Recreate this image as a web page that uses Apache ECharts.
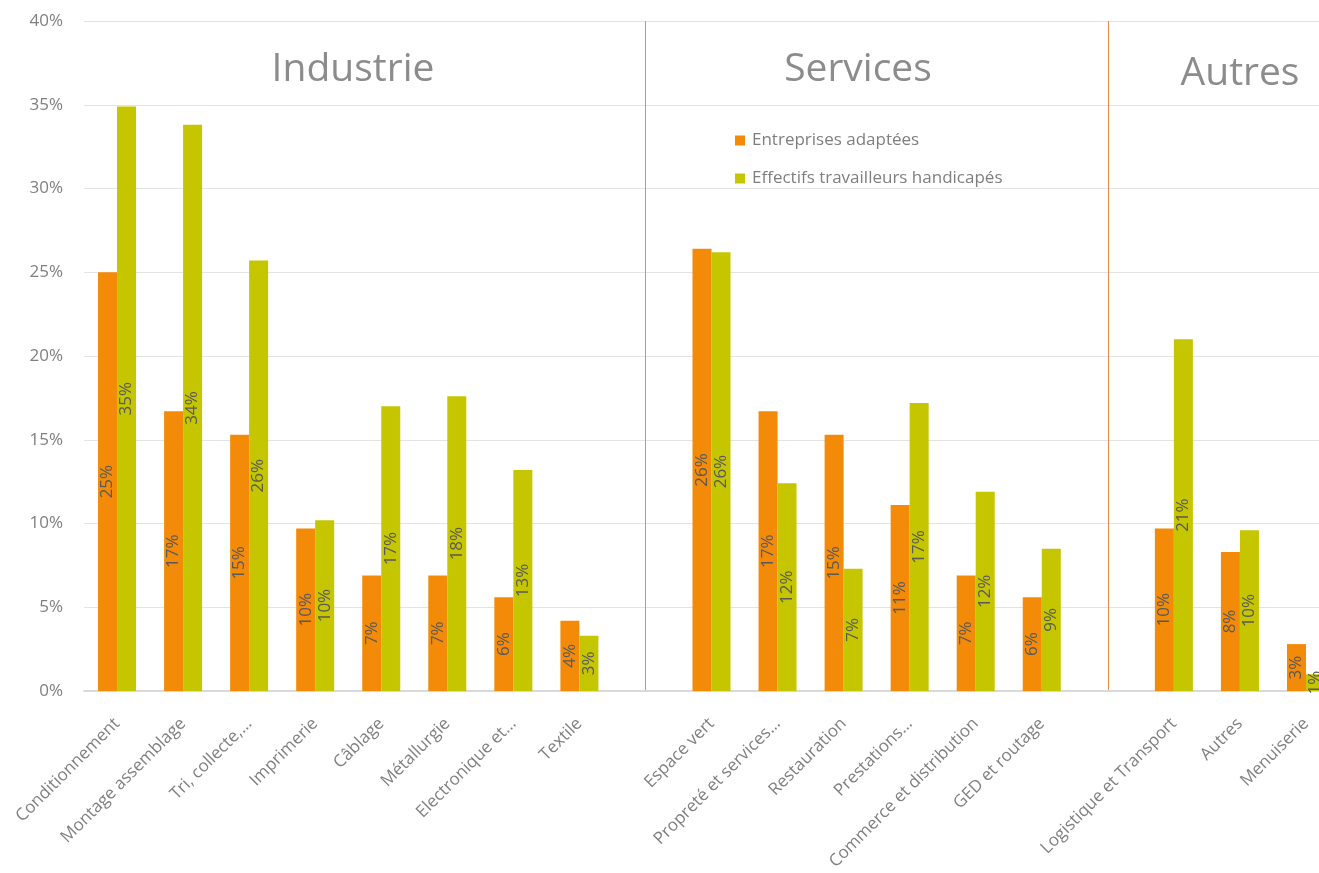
<!DOCTYPE html>
<html>
<head>
<meta charset="utf-8">
<script src="https://cdn.jsdelivr.net/npm/echarts@6/dist/echarts.min.js"></script>
<style>
  html, body { margin: 0; padding: 0; background: #fff; overflow: hidden; }
  #chart { width: 1319px; height: 873px; }
</style>
</head>
<body>
<div id="chart"></div>
<script>
// Activity sectors; the two empty entries are spacers between sector groups
const categories = [
  'Conditionnement', 'Montage assemblage', 'Tri, collecte,…', 'Imprimerie', 'Câblage',
  'Métallurgie', 'Electronique et…', 'Textile', '',
  'Espace vert', 'Propreté et services…', 'Restauration', 'Prestations…',
  'Commerce et distribution', 'GED et routage', '',
  'Logistique et Transport', 'Autres', 'Menuiserie'
];

// Share of adapted companies per sector (%)
const entreprises = [25.0, 16.7, 15.3, 9.7, 6.9, 6.9, 5.6, 4.2, null,
  26.4, 16.7, 15.3, 11.1, 6.9, 5.6, null,
  9.7, 8.3, 2.8];

// Share of disabled workers per sector (%)
const effectifs = [34.9, 33.8, 25.7, 10.2, 17.0, 17.6, 13.2, 3.3, null,
  26.2, 12.4, 7.3, 17.2, 11.9, 8.5, null,
  21.0, 9.6, 1.0];

const seriesNames = ['Entreprises adaptées', 'Effectifs travailleurs handicapés'];
const groupTitles = ['Industrie', 'Services', 'Autres'];
const separatorIndexes = [8, 15];
const yTicks = { min: 0, max: 40, interval: 5 };

const FONT = 'Open Sans';
const chart = echarts.init(document.getElementById('chart'));

const valueLabel = {
  show: true,
  position: 'inside',
  rotate: 90,
  color: '#595959',
  fontFamily: FONT,
  fontSize: 17,
  formatter: p => Math.round(p.value) + '%'
};

const titleStyle = text => ({
  text: text,
  fill: '#8c8c8c',
  font: '39px "Open Sans"',
  textAlign: 'center',
  textVerticalAlign: 'middle'
});

// The plot runs slightly past the right edge of the canvas
chart.setOption({
  animation: false,
  backgroundColor: '#ffffff',
  grid: { left: 84, top: 21, bottom: 182, width: 1255, containLabel: false, outerBoundsMode: 'none' },
  legend: {
    orient: 'vertical',
    left: 730,
    top: 127,
    itemWidth: 10,
    itemHeight: 10,
    itemGap: 21,
    icon: 'rect',
    data: seriesNames,
    textStyle: { color: '#7f7f7f', fontFamily: FONT, fontSize: 17, padding: [0, 0, 0, 2] }
  },
  xAxis: {
    type: 'category',
    data: categories,
    axisLine: { lineStyle: { color: '#d9d9d9', width: 2 } },
    axisTick: { show: false },
    axisLabel: {
      interval: 0,
      rotate: 45,
      margin: 30,
      color: '#7f7f7f',
      fontFamily: FONT,
      fontSize: 17
    }
  },
  yAxis: {
    type: 'value',
    min: yTicks.min,
    max: yTicks.max,
    interval: yTicks.interval,
    axisLine: { show: false },
    axisTick: { show: false },
    axisLabel: {
      margin: 21,
      color: '#7f7f7f',
      fontFamily: FONT,
      fontSize: 17,
      formatter: v => v + '%'
    },
    splitLine: { lineStyle: { color: '#e3e3e3', width: 1 } }
  },
  series: [
    {
      name: seriesNames[0],
      type: 'bar',
      data: entreprises,
      barWidth: 19,
      barGap: '0%',
      itemStyle: { color: '#F38B09' },
      label: valueLabel
    },
    {
      name: seriesNames[1],
      type: 'bar',
      data: effectifs,
      barWidth: 19,
      barGap: '0%',
      itemStyle: { color: '#C6C600' },
      label: valueLabel
    }
  ]
});

// Group separators at the spacer categories, and the group titles
const yTop = chart.convertToPixel({ yAxisIndex: 0 }, yTicks.max);
const yBottom = chart.convertToPixel({ yAxisIndex: 0 }, yTicks.min);
const separators = separatorIndexes.map(i => {
  const x = Math.round(chart.convertToPixel({ xAxisIndex: 0 }, i)) + 0.5;
  return {
    type: 'line',
    shape: { x1: x, y1: yTop, x2: x, y2: yBottom },
    style: { stroke: '#F08A4B', lineWidth: 1 },
    silent: true
  };
});

chart.setOption({
  graphic: separators.concat([
    { type: 'text', x: 353, y: 70, style: titleStyle(groupTitles[0]) },
    { type: 'text', x: 858, y: 70, style: titleStyle(groupTitles[1]) },
    { type: 'text', x: 1240, y: 74, style: titleStyle(groupTitles[2]) }
  ])
});
</script>
</body>
</html>
